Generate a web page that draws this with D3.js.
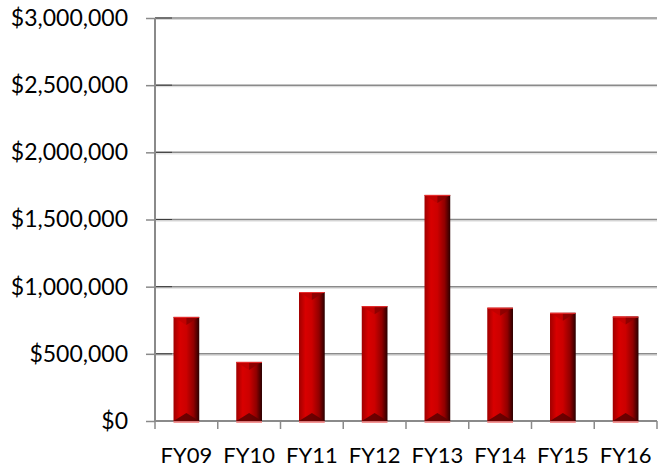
<!DOCTYPE html>
<html>
<head>
<meta charset="utf-8">
<script src="https://cdn.jsdelivr.net/npm/d3@7"></script>
<style>
  body { margin: 0; background: #fff; }
  text { font-family: Lato, "Open Sans", sans-serif; fill: #000; }
</style>
</head>
<body>
<script>
var years = ["FY09", "FY10", "FY11", "FY12", "FY13", "FY14", "FY15", "FY16"];
var funding = [775000, 440000, 960000, 855000, 1683000, 843000, 805000, 777000];
var yTicks = [0, 500000, 1000000, 1500000, 2000000, 2500000, 3000000];

var width = 659, height = 472;
var plotLeft = 155, plotRight = 657, plotTop = 18, plotBottom = 421;

var svg = d3.select("body").append("svg")
  .attr("width", width)
  .attr("height", height);

var x = d3.scaleBand()
  .domain(years)
  .range([plotLeft, plotRight])
  .paddingInner(0.59)
  .paddingOuter(0.295);

var y = d3.scaleLinear()
  .domain([0, 3000000])
  .range([plotBottom, plotTop]);

var fmt = function (d) { return "$" + d3.format(",")(d); };

// gradient for the bar body
var defs = svg.append("defs");
var grad = defs.append("linearGradient").attr("id", "barGrad")
  .attr("x1", "0%").attr("x2", "100%").attr("y1", "0%").attr("y2", "0%");
grad.append("stop").attr("offset", "0%").attr("stop-color", "#a00000");
grad.append("stop").attr("offset", "25%").attr("stop-color", "#d80000");
grad.append("stop").attr("offset", "50%").attr("stop-color", "#cc0000");
grad.append("stop").attr("offset", "78%").attr("stop-color", "#900000");
grad.append("stop").attr("offset", "100%").attr("stop-color", "#2a0000");

// gridlines
var grid = svg.append("g");
grid.selectAll("line.shadow")
  .data(yTicks.slice(1))
  .enter().append("line")
  .attr("x1", plotLeft).attr("x2", plotRight)
  .attr("y1", function (d) { return y(d) + 1.5; })
  .attr("y2", function (d) { return y(d) + 1.5; })
  .attr("stroke", "#d8d8d8").attr("stroke-width", 1);
grid.selectAll("line.main")
  .data(yTicks.slice(1))
  .enter().append("line")
  .attr("x1", plotLeft).attr("x2", plotRight)
  .attr("y1", function (d) { return y(d); })
  .attr("y2", function (d) { return y(d); })
  .attr("stroke", "#8a8a8a").attr("stroke-width", 1.5);
grid.selectAll("line.dark")
  .data(yTicks.slice(1))
  .enter().append("line")
  .attr("x1", plotLeft).attr("x2", plotLeft + 17)
  .attr("y1", function (d) { return y(d); })
  .attr("y2", function (d) { return y(d); })
  .attr("stroke", "#3c3c3c").attr("stroke-width", 1);

// y axis
var yAxis = svg.append("g")
  .attr("transform", "translate(" + plotLeft + ",0)")
  .call(d3.axisLeft(y).tickValues(yTicks).tickFormat(fmt).tickSize(9).tickPadding(18));
yAxis.select(".domain").attr("stroke", "#8a8a8a").attr("stroke-width", 2)
  .attr("d", "M0," + plotTop + "V" + plotBottom);
yAxis.selectAll(".tick line").attr("stroke", "#8a8a8a").attr("stroke-width", 1.5);
yAxis.selectAll(".tick text").style("font-size", "23px").attr("fill", "#000");

// x axis
var xAxis = svg.append("g")
  .attr("transform", "translate(0," + plotBottom + ")")
  .call(d3.axisBottom(x).tickSize(0).tickPadding(26));
xAxis.select(".domain").attr("stroke", "#8a8a8a").attr("stroke-width", 2)
  .attr("d", "M" + plotLeft + ",0H" + plotRight);
xAxis.selectAll(".tick text").style("font-size", "22px").attr("fill", "#000");

var step = x.step();
var bounds = d3.range(years.length + 1).map(function (i) { return plotLeft + i * step; });
xAxis.selectAll("line.sep")
  .data(bounds)
  .enter().append("line")
  .attr("x1", function (d) { return d; }).attr("x2", function (d) { return d; })
  .attr("y1", 0).attr("y2", 8)
  .attr("stroke", "#8a8a8a").attr("stroke-width", 1.5);

// bars
var bars = svg.selectAll("g.bar")
  .data(years.map(function (k, i) { return { year: k, value: funding[i] }; }))
  .enter().append("g");

bars.append("rect")
  .attr("x", function (d) { return x(d.year); })
  .attr("y", function (d) { return y(d.value); })
  .attr("width", x.bandwidth())
  .attr("height", function (d) { return y(0) - y(d.value); })
  .attr("fill", "url(#barGrad)");

// top bevel
bars.append("path")
  .attr("d", function (d) {
    var x0 = x(d.year), w = x.bandwidth(), t = y(d.value);
    return "M" + x0 + "," + t + "L" + (x0 + w / 2) + "," + (t + 8) + "L" + (x0 + w / 2) + "," + t + "Z";
  })
  .attr("fill", "#c00000").attr("opacity", 0.9);
bars.append("path")
  .attr("d", function (d) {
    var x0 = x(d.year), w = x.bandwidth(), t = y(d.value);
    return "M" + (x0 + w) + "," + t + "L" + (x0 + w / 2) + "," + (t + 8) + "L" + (x0 + w / 2) + "," + t + "Z";
  })
  .attr("fill", "#8a0000").attr("opacity", 0.9);
bars.append("line")
  .attr("x1", function (d) { return x(d.year); })
  .attr("x2", function (d) { return x(d.year) + x.bandwidth(); })
  .attr("y1", function (d) { return y(d.value) + 0.5; })
  .attr("y2", function (d) { return y(d.value) + 0.5; })
  .attr("stroke", "#e83030").attr("stroke-width", 1);

// bottom bevel
bars.append("path")
  .attr("d", function (d) {
    var x0 = x(d.year), w = x.bandwidth(), b = y(0);
    return "M" + x0 + "," + b + "L" + (x0 + w / 2) + "," + (b - 8) + "L" + (x0 + w) + "," + b + "Z";
  })
  .attr("fill", "#5a0000").attr("opacity", 0.85);
bars.append("line")
  .attr("x1", function (d) { return x(d.year); })
  .attr("x2", function (d) { return x(d.year) + x.bandwidth(); })
  .attr("y1", y(0) + 1)
  .attr("y2", y(0) + 1)
  .attr("stroke", "#f07070").attr("stroke-width", 1.5);
</script>
</body>
</html>
